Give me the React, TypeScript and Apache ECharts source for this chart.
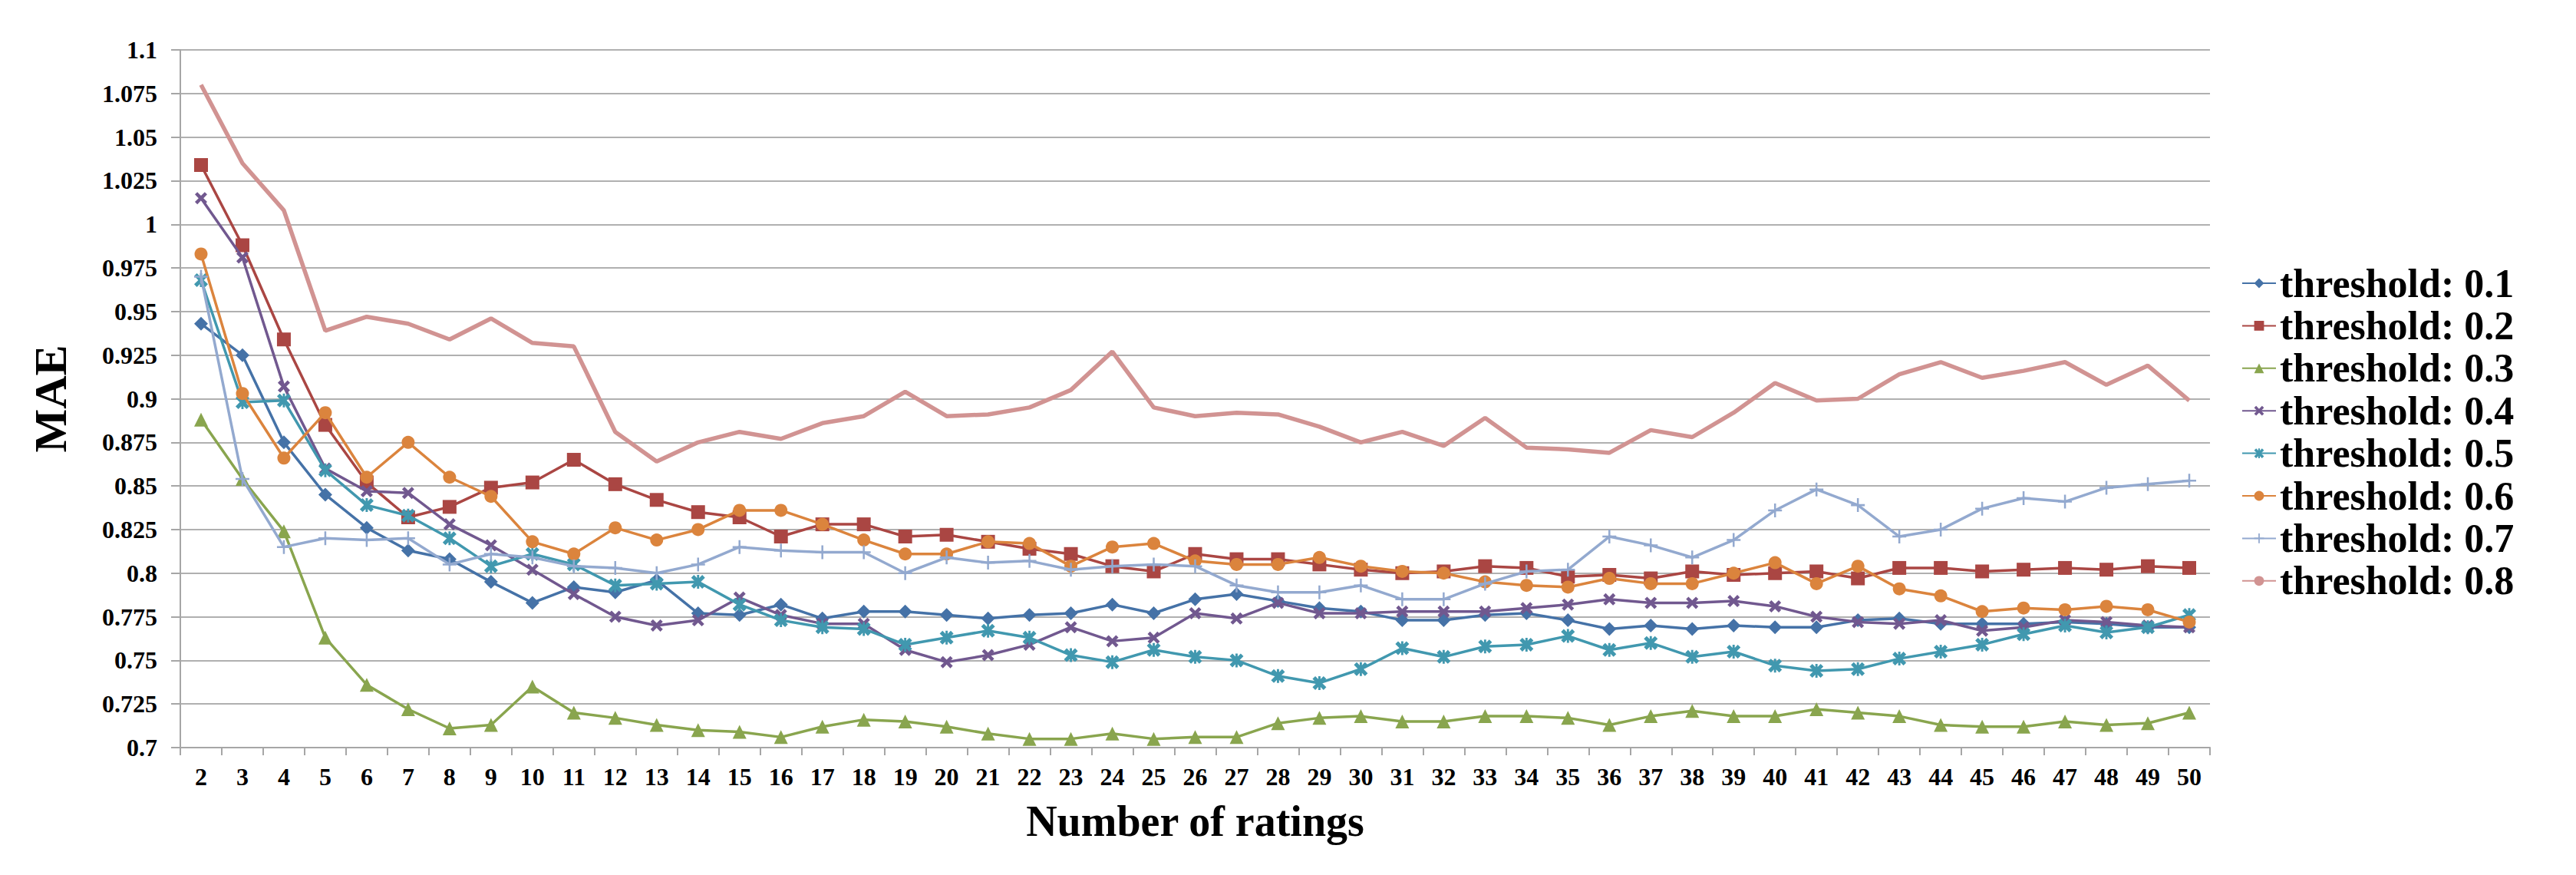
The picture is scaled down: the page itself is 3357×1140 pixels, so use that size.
import React, { useEffect, useRef } from "react";
import * as echarts from "echarts";

const categories = [
  "2","3","4","5","6","7","8","9","10","11","12","13","14","15","16","17","18","19","20","21","22","23","24","25","26",
  "27","28","29","30","31","32","33","34","35","36","37","38","39","40","41","42","43","44","45","46","47","48","49","50",
];

const yTicks = { min: 0.7, max: 1.1, interval: 0.025 };

const t01 = [0.943,0.925,0.875,0.845,0.826,0.813,0.808,0.795,0.783,0.792,0.789,0.796,0.777,0.776,0.782,0.774,0.778,0.778,0.776,0.774,0.776,0.777,0.782,0.777,0.785,0.788,0.784,0.780,0.778,0.773,0.773,0.776,0.777,0.773,0.768,0.770,0.768,0.770,0.769,0.769,0.773,0.774,0.771,0.771,0.771,0.772,0.771,0.769,0.769];
const t02 = [1.034,0.988,0.934,0.885,0.852,0.832,0.838,0.849,0.852,0.865,0.851,0.842,0.835,0.832,0.821,0.828,0.828,0.821,0.822,0.818,0.814,0.811,0.804,0.801,0.811,0.808,0.808,0.805,0.802,0.800,0.801,0.804,0.803,0.798,0.799,0.797,0.801,0.799,0.800,0.801,0.797,0.803,0.803,0.801,0.802,0.803,0.802,0.804,0.803];
const t03 = [0.888,0.854,0.824,0.763,0.736,0.722,0.711,0.713,0.735,0.720,0.717,0.713,0.710,0.709,0.706,0.712,0.716,0.715,0.712,0.708,0.705,0.705,0.708,0.705,0.706,0.706,0.714,0.717,0.718,0.715,0.715,0.718,0.718,0.717,0.713,0.718,0.721,0.718,0.718,0.722,0.720,0.718,0.713,0.712,0.712,0.715,0.713,0.714,0.720];
const t04 = [1.015,0.981,0.907,0.860,0.847,0.846,0.828,0.816,0.802,0.788,0.775,0.770,0.773,0.786,0.776,0.771,0.771,0.756,0.749,0.753,0.759,0.769,0.761,0.763,0.777,0.774,0.783,0.777,0.777,0.778,0.778,0.778,0.780,0.782,0.785,0.783,0.783,0.784,0.781,0.775,0.772,0.771,0.773,0.767,0.769,0.773,0.772,0.770,0.769];
const t05 = [0.968,0.898,0.899,0.859,0.839,0.833,0.820,0.804,0.811,0.805,0.793,0.794,0.795,0.782,0.773,0.769,0.768,0.759,0.763,0.767,0.763,0.753,0.749,0.756,0.752,0.750,0.741,0.737,0.745,0.757,0.752,0.758,0.759,0.764,0.756,0.760,0.752,0.755,0.747,0.744,0.745,0.751,0.755,0.759,0.765,0.770,0.766,0.769,0.776];
const t06 = [0.983,0.903,0.866,0.892,0.855,0.875,0.855,0.844,0.818,0.811,0.826,0.819,0.825,0.836,0.836,0.828,0.819,0.811,0.811,0.818,0.817,0.804,0.815,0.817,0.807,0.805,0.805,0.809,0.804,0.801,0.800,0.795,0.793,0.792,0.797,0.794,0.794,0.800,0.806,0.794,0.804,0.791,0.787,0.778,0.780,0.779,0.781,0.779,0.772];
const t07 = [0.970,0.854,0.815,0.820,0.819,0.820,0.805,0.811,0.809,0.804,0.803,0.800,0.805,0.815,0.813,0.812,0.812,0.800,0.809,0.806,0.807,0.802,0.804,0.805,0.804,0.793,0.789,0.789,0.793,0.785,0.785,0.794,0.801,0.802,0.821,0.816,0.809,0.819,0.836,0.848,0.839,0.821,0.825,0.837,0.843,0.841,0.849,0.851,0.853];
const t08 = [1.080,1.035,1.008,0.939,0.947,0.943,0.934,0.946,0.932,0.930,0.881,0.864,0.875,0.881,0.877,0.886,0.890,0.904,0.890,0.891,0.895,0.905,0.927,0.895,0.890,0.892,0.891,0.884,0.875,0.881,0.873,0.889,0.872,0.871,0.869,0.882,0.878,0.892,0.909,0.899,0.900,0.914,0.921,0.912,0.916,0.921,0.908,0.919,0.899];

const seriesNames = [
  "threshold: 0.1","threshold: 0.2","threshold: 0.3","threshold: 0.4",
  "threshold: 0.5","threshold: 0.6","threshold: 0.7","threshold: 0.8",
];
const seriesData = [t01, t02, t03, t04, t05, t06, t07, t08];
const colors = ["#4572A7","#AA4643","#89A54E","#71588F","#4198AF","#DB843D","#93A9CF","#D19392"];

const X_SYM = "path://M2,0 L5,3 L8,0 L10,2 L7,5 L10,8 L8,10 L5,7 L2,10 L0,8 L3,5 L0,2 Z";
const AST_SYM = "path://M2,0 L5,3 L8,0 L10,2 L7,5 L10,8 L8,10 L5,7 L2,10 L0,8 L3,5 L0,2 Z M4.2,0 L5.8,0 L5.8,10 L4.2,10 Z";
const PLUS_SYM = "path://M4.3,0 L5.7,0 L5.7,4.3 L10,4.3 L10,5.7 L5.7,5.7 L5.7,10 L4.3,10 L4.3,5.7 L0,5.7 L0,4.3 L4.3,4.3 Z";
const symbols = ["diamond","rect","triangle",X_SYM,AST_SYM,"circle",PLUS_SYM,"none"];
const symbolSizes = [18,18,18,16,18,17,18,0];

const FONT = "'Liberation Serif', 'Times New Roman', serif";

export default function App() {
  const ref = useRef<HTMLDivElement>(null);
  useEffect(() => {
    document.body.style.margin = "0";
    if (!ref.current) return;
    const chart = echarts.init(ref.current, null, { renderer: "svg" });
    chart.setOption({
      animation: false,
      backgroundColor: "#ffffff",
      grid: { left: 235, right: 477, top: 65, bottom: 166, containLabel: false },
      legend: {
        orient: "vertical",
        left: 2916,
        top: 338,
        itemWidth: 44,
        itemHeight: 16,
        itemGap: 3.4,
        data: seriesNames,
        textStyle: { fontFamily: FONT, fontWeight: "bold", fontSize: 52, lineHeight: 52, color: "#000" },
      },
      xAxis: {
        type: "category",
        data: categories,
        boundaryGap: true,
        name: "Number of ratings",
        nameLocation: "middle",
        nameGap: 68,
        nameTextStyle: { fontFamily: FONT, fontWeight: "bold", fontSize: 56, color: "#000" },
        axisLine: { lineStyle: { color: "#a6a6a6", width: 2 } },
        axisTick: { show: true, length: 10, alignWithLabel: false, lineStyle: { color: "#a6a6a6", width: 2 } },
        axisLabel: { fontFamily: FONT, fontWeight: "bold", fontSize: 32, color: "#000", margin: 22, interval: 0 },
        splitLine: { show: false },
      },
      yAxis: {
        type: "value",
        min: yTicks.min,
        max: yTicks.max,
        interval: yTicks.interval,
        name: "MAE",
        nameLocation: "middle",
        nameGap: 139,
        nameTextStyle: { fontFamily: FONT, fontWeight: "bold", fontSize: 60, color: "#000" },
        axisLine: { show: true, lineStyle: { color: "#a6a6a6", width: 2 } },
        axisTick: { show: true, length: 12, lineStyle: { color: "#a6a6a6", width: 2 } },
        axisLabel: { fontFamily: FONT, fontWeight: "bold", fontSize: 32, color: "#000", margin: 30 },
        splitLine: { show: true, lineStyle: { color: "#b0b0b0", width: 2 } },
      },
      series: seriesData.map((d, i) => ({
        name: seriesNames[i],
        type: "line",
        data: d,
        symbol: symbols[i],
        symbolSize: symbolSizes[i],
        showSymbol: symbols[i] !== "none",
        showAllSymbol: true,
        lineStyle: { color: colors[i], width: i === 7 ? 5.5 : 3.5 },
        itemStyle: { color: colors[i], borderColor: colors[i], borderWidth: 0 },
        emphasis: { disabled: true },
        z: 2 + i,
      })),
    });
    return () => chart.dispose();
  }, []);
  return <div ref={ref} style={{ width: 3357, height: 1140 }} />;
}
